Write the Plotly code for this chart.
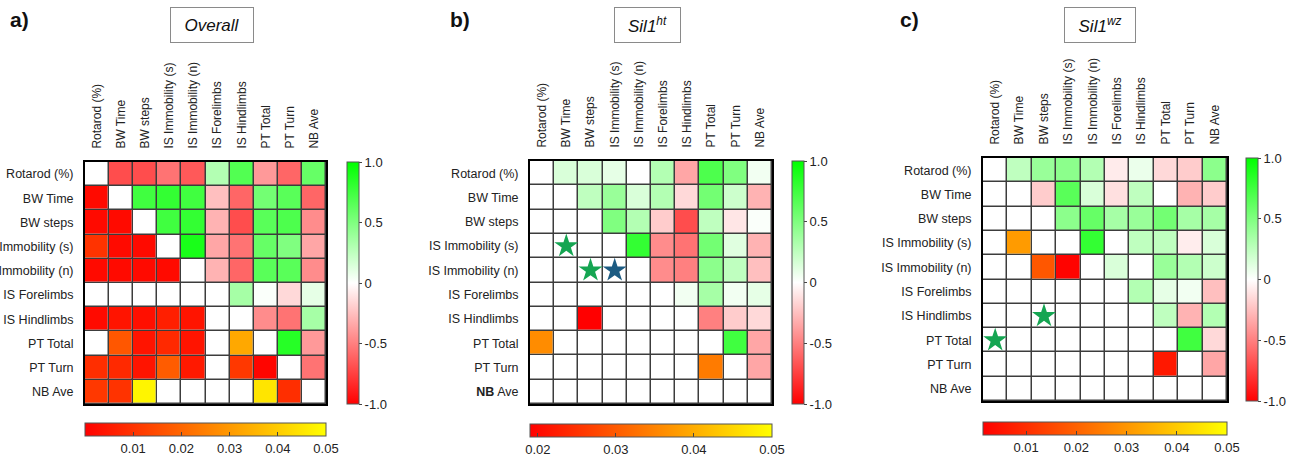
import plotly.graph_objects as go

# ---------------- data ----------------
variables = ["Rotarod (%)", "BW Time", "BW steps", "IS Immobility (s)", "IS Immobility (n)",
             "IS Forelimbs", "IS Hindlimbs", "PT Total", "PT Turn", "NB Ave"]
row_labels_b = ["Rotarod (%)", "BW Time", "BW steps", "IS Immobility (s)", "IS Immobility (n)",
                "IS Forelimbs", "IS Hindlimbs", "PT Total", "PT Turn", "<b>NB</b> Ave"]

# Correlation coefficients, upper triangle (row i, columns i+1..9)
r_overall = [
    [-0.70, -0.70, -0.55, -0.65, 0.30, 0.68, -0.40, -0.60, 0.60],
    [0.75, 0.80, 0.75, -0.25, -0.60, 0.55, 0.65, -0.60],
    [0.75, 0.80, -0.30, -0.70, 0.65, 0.70, -0.45],
    [0.90, -0.35, -0.55, 0.60, 0.50, -0.35],
    [-0.30, -0.60, 0.65, 0.65, -0.45],
    [0.35, 0.02, -0.15, 0.10],
    [-0.45, -0.55, 0.35],
    [0.85, -0.40],
    [-0.55],
]
r_ht = [
    [0.15, 0.15, 0.10, 0.00, 0.30, -0.35, 0.70, 0.50, 0.05],
    [0.25, 0.40, 0.15, 0.30, -0.15, 0.55, 0.20, -0.30],
    [0.50, 0.30, -0.20, -0.70, 0.25, -0.10, 0.02],
    [0.80, -0.45, -0.55, 0.55, 0.12, -0.30],
    [-0.45, -0.50, 0.45, 0.25, -0.25],
    [0.05, 0.35, 0.05, 0.10],
    [-0.50, -0.20, -0.15],
    [0.75, -0.35],
    [-0.35],
]
r_wz = [
    [0.25, 0.40, 0.45, 0.30, -0.08, 0.08, -0.15, -0.20, 0.45],
    [-0.20, 0.65, 0.15, -0.12, 0.25, 0.00, -0.30, -0.20],
    [0.45, 0.60, 0.35, 0.40, 0.55, 0.35, 0.35],
    [0.80, 0.00, 0.25, 0.25, -0.07, 0.15],
    [0.15, 0.00, 0.40, 0.30, 0.20],
    [0.30, 0.10, 0.05, -0.25],
    [0.25, -0.30, 0.30],
    [0.75, -0.15],
    [-0.35],
]

# Significant p-values, lower triangle (row i, columns 0..i-1); None = not significant
p_overall = [
    [],
    [0.002],
    [0.002, 0.002],
    [0.010, 0.002, 0.002],
    [0.002, 0.002, 0.002, 0.002],
    [None, None, None, None, None],
    [0.002, 0.004, 0.003, 0.006, 0.004, None],
    [None, 0.017, 0.004, 0.008, 0.004, None, 0.033],
    [0.009, 0.008, 0.004, 0.018, 0.005, None, 0.011, 0.001],
    [0.011, 0.010, 0.048, None, None, None, None, 0.045, 0.009],
]
p_ht = [
    [],
    [None],
    [None, None],
    [None, None, None],
    [None, None, None, None],
    [None, None, None, None, None],
    [None, None, 0.019, None, None, None],
    [0.036, None, None, None, None, None, None],
    [None, None, None, None, None, None, None, 0.034],
    [None, None, None, None, None, None, None, None, None],
]
p_wz = [
    [],
    [None],
    [None, None],
    [None, 0.031, None],
    [None, None, 0.018, 0.002],
    [None, None, None, None, None],
    [None, None, None, None, None, None],
    [None, None, None, None, None, None, None],
    [None, None, None, None, None, None, None, 0.006],
    [None, None, None, None, None, None, None, None, None],
]

# Star markers: (row, column, colour key)
stars_ht = [(3, 1, "green"), (4, 2, "green"), (4, 3, "blue")]
stars_wz = [(6, 2, "green"), (7, 0, "green")]

p_ranges = [(0.0, 0.05), (0.019, 0.05), (0.0014, 0.05)]
p_ticks = [[0.01, 0.02, 0.03, 0.04, 0.05], [0.02, 0.03, 0.04, 0.05], [0.01, 0.02, 0.03, 0.04, 0.05]]

# ---------------- layout geometry (pixels) ----------------
W, H = 1301, 463
FONT = "Liberation Sans, Arial, sans-serif"
panels = [
    dict(x0=85, x1=326, y0=162, y1=404, cb=347, hy=423, title="<i>Overall</i>", tx=212, tw=84,
         letter="a)", lx=8, r=r_overall, p=p_overall, stars=[], rows=variables),
    dict(x0=530, x1=772, y0=161, y1=404, cb=792, hy=424, title="<i>Sil1<sup>ht</sup></i>", tx=647.5, tw=67,
         letter="b)", lx=448, r=r_ht, p=p_ht, stars=stars_ht, rows=row_labels_b),
    dict(x0=983, x1=1227, y0=158, y1=401, cb=1246, hy=422, title="<i>Sil1<sup>wz</sup></i>", tx=1100, tw=72,
         letter="c)", lx=898, r=r_wz, p=p_wz, stars=stars_wz, rows=variables),
]
star_colors = {"green": "#15a552", "blue": "#1c5b82"}

n = len(variables)
fig = go.Figure()
annotations = []
layout_axes = {}

r_scale = [[0, "#ff0000"], [0.5, "#ffffff"], [1, "#00ff00"]]
p_scale = [[0, "#ff0000"], [1, "#ffff00"]]

for k, P in enumerate(panels):
    suffix = "" if k == 0 else str(k + 1)
    xa, ya = "x" + suffix, "y" + suffix
    # correlation matrix: upper triangle values, zeros (white) elsewhere
    zr = [[0.0] * n for _ in range(n)]
    for i, row in enumerate(P["r"]):
        for m, v in enumerate(row):
            zr[i][i + 1 + m] = v
    zp = [[None] * n for _ in range(n)]
    for i, row in enumerate(P["p"]):
        for j, v in enumerate(row):
            zp[i][j] = v

    cy = 1 - ((P["y0"] + P["y1"]) / 2) / H
    fig.add_trace(go.Heatmap(
        z=zr, x=list(range(n)), y=list(range(n)), xaxis=xa, yaxis=ya,
        colorscale=r_scale, zmin=-1, zmax=1, xgap=1.5, ygap=1.5, hoverinfo="skip",
        colorbar=dict(x=P["cb"] / W, xanchor="left", xpad=0, ypad=0,
                      y=cy, yanchor="middle", len=P["y1"] - P["y0"], lenmode="pixels",
                      thickness=12, outlinewidth=1, outlinecolor="#555",
                      tickvals=[-1, -0.5, 0, 0.5, 1], ticktext=["-1.0", "-0.5", "0", "0.5", "1.0"],
                      ticks="outside", ticklen=3, tickcolor="#444",
                      tickfont=dict(family=FONT, size=13, color="#222")),
    ))
    pmin, pmax = p_ranges[k]
    fig.add_trace(go.Heatmap(
        z=zp, x=list(range(n)), y=list(range(n)), xaxis=xa, yaxis=ya,
        colorscale=p_scale, zmin=pmin, zmax=pmax, xgap=1.5, ygap=1.5, hoverinfo="skip",
        colorbar=dict(orientation="h", x=((P["x0"] + P["x1"]) / 2) / W, xanchor="center",
                      len=P["x1"] - P["x0"], lenmode="pixels", xpad=0, ypad=0,
                      y=1 - P["hy"] / H, yanchor="top", thickness=13,
                      outlinewidth=1, outlinecolor="#555",
                      tickvals=p_ticks[k], ticktext=["%.2f" % t for t in p_ticks[k]],
                      ticks="inside", ticklen=4, tickcolor="#444",
                      tickfont=dict(family=FONT, size=13, color="#222")),
    ))
    if P["stars"]:
        fig.add_trace(go.Scatter(
            x=[s[1] for s in P["stars"]], y=[s[0] for s in P["stars"]], xaxis=xa, yaxis=ya,
            mode="markers", hoverinfo="skip", showlegend=False,
            marker=dict(symbol="star", size=18, color=[star_colors[s[2]] for s in P["stars"]],
                        line=dict(width=0)),
        ))

    layout_axes["xaxis" + suffix] = dict(
        domain=[P["x0"] / W, P["x1"] / W], anchor=ya, range=[-0.5, n - 0.5], automargin=False,
        side="top", tickvals=list(range(n)), ticktext=variables, tickangle=-90,
        ticks="", ticklabelstandoff=9, showgrid=False, zeroline=False,
        showline=True, mirror=True, linecolor="#000", linewidth=2,
        tickfont=dict(family=FONT, size=12, color="#222"), fixedrange=True,
    )
    layout_axes["yaxis" + suffix] = dict(
        domain=[1 - P["y1"] / H, 1 - P["y0"] / H], anchor=xa, range=[n - 0.5, -0.5], automargin=False,
        tickvals=list(range(n)), ticktext=P["rows"], ticks="", ticklabelstandoff=7,
        showgrid=False, zeroline=False, showline=True, mirror=True, linecolor="#000", linewidth=2,
        tickfont=dict(family=FONT, size=12.5, color="#222"), fixedrange=True,
    )
    annotations.append(dict(
        text=P["title"], xref="paper", yref="paper", x=P["tx"] / W, y=1 - 25 / H,
        xanchor="center", yanchor="middle", showarrow=False, width=P["tw"] - 2, height=34,
        bordercolor="#8a8a8a", borderwidth=1, borderpad=0, bgcolor="#ffffff",
        font=dict(family=FONT, size=17, color="#111"),
    ))
    annotations.append(dict(
        text="<b>" + P["letter"] + "</b>", xref="paper", yref="paper", x=P["lx"] / W, y=1 - 19 / H,
        xanchor="left", yanchor="middle", showarrow=False,
        font=dict(family=FONT, size=21, color="#111"),
    ))

fig.update_layout(
    width=W, height=H, margin=dict(l=0, r=0, t=0, b=0, autoexpand=False),
    paper_bgcolor="#ffffff", plot_bgcolor="#3c3c3c", showlegend=False,
    annotations=annotations, **layout_axes,
)
fig.write_html("out.html")
